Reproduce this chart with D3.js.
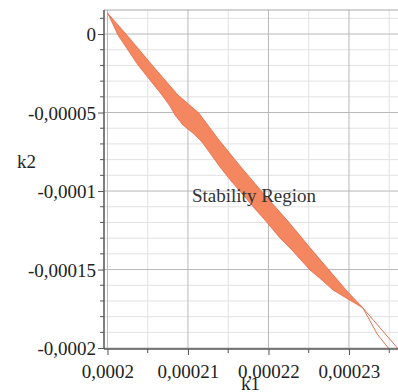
<!DOCTYPE html>
<meta charset="utf-8">
<style>
body { margin: 0; background: #fff; }
text { font-family: "Liberation Serif", "Times New Roman", serif; fill: #222; }
</style>
<svg width="398" height="392"></svg>
<script src="https://cdn.jsdelivr.net/npm/d3@7/dist/d3.min.js"></script>
<script>

// stability band, right (upper) edge, from the tip down to the crossing point
var upperEdge = [
  [0.0002000, 1.34e-5],
  [0.0002024, -0.06e-5],
  [0.00020553, -1.97e-5],
  [0.00020876, -3.89e-5],
  [0.00021135, -5.03e-5],
  [0.00021385, -6.75e-5],
  [0.00021658, -8.47e-5],
  [0.00021975, -10.38e-5],
  [0.0002223, -11.85e-5],
  [0.0002254, -13.76e-5],
  [0.00022752, -15.03e-5],
  [0.00022963, -16.30e-5],
  [0.00023174, -17.45e-5]
];

// left (lower) edge, wavy
var lowerEdge = [
  [0.0002000, 1.34e-5],
  [0.00020056, 0.76e-5],
  [0.0002013, -0.06e-5],
  [0.00020255, -1.02e-5],
  [0.00020379, -1.97e-5],
  [0.00020528, -2.93e-5],
  [0.00020677, -3.89e-5],
  [0.00020776, -4.59e-5],
  [0.00020839, -5.16e-5],
  [0.00020938, -5.80e-5],
  [0.00021062, -6.31e-5],
  [0.00021174, -6.88e-5],
  [0.00021273, -7.58e-5],
  [0.00021398, -8.47e-5],
  [0.00021547, -9.43e-5],
  [0.00021708, -10.38e-5],
  [0.00021845, -11.21e-5],
  [0.00021957, -11.85e-5],
  [0.00022143, -12.99e-5],
  [0.00022292, -13.76e-5],
  [0.00022516, -15.03e-5],
  [0.00022665, -15.67e-5],
  [0.00022801, -16.30e-5],
  [0.00022988, -16.88e-5],
  [0.00023174, -17.45e-5]
];

// the two boundary curves after they cross
var tailRight = [[0.00023174, -17.45e-5], [0.00023634, -20.19e-5]];
var tailLeft  = [[0.00023174, -17.45e-5], [0.0002335, -19.1e-5], [0.00023509, -20.13e-5]];

var xMajor = [0.0002, 0.00021, 0.00022, 0.00023];
var xMinor = [0.000205, 0.000215, 0.000225, 0.000235];
var yMajor = [0, -0.00005, -0.0001, -0.00015, -0.0002];
var yMinor = [0.00001, -0.00001, -0.00002, -0.00003, -0.00004, -0.00006, -0.00007, -0.00008, -0.00009,
              -0.00011, -0.00012, -0.00013, -0.00014, -0.00016, -0.00017, -0.00018, -0.00019];

var xDomain = [0.00019957, 0.00023609];
var yDomain = [1.53e-5, -2.006e-4];

var svg = d3.select("svg"),
    pLeft = 104, pRight = 398, pTop = 10, pBottom = 349;

svg.append("rect").attr("width", 398).attr("height", 392).style("fill", "#fff");

var x = d3.scaleLinear().domain(xDomain).range([pLeft, pRight]);
var y = d3.scaleLinear().domain(yDomain).range([pTop, pBottom]);

var loc = d3.formatLocale({decimal: ",", thousands: ".", grouping: [3], currency: ["", ""], minus: "-"});
var fmt = loc.format(".5~f");

svg.append("defs").append("clipPath").attr("id", "clip")
   .append("rect").attr("x", pLeft).attr("y", pTop).attr("width", pRight - pLeft).attr("height", pBottom - pTop);

// grid
var grid = svg.append("g");
grid.selectAll(".vmin").data(xMinor).enter().append("line")
    .attr("x1", x).attr("x2", x).attr("y1", pTop).attr("y2", pBottom)
    .style("stroke", "#e2e2e2").style("stroke-width", 1);
grid.selectAll(".hmin").data(yMinor).enter().append("line")
    .attr("y1", y).attr("y2", y).attr("x1", pLeft).attr("x2", pRight)
    .style("stroke", "#e2e2e2").style("stroke-width", 1);
grid.selectAll(".vmaj").data(xMajor).enter().append("line")
    .attr("x1", x).attr("x2", x).attr("y1", pTop).attr("y2", pBottom)
    .style("stroke", "#b8b8b8").style("stroke-width", 1);
grid.selectAll(".hmaj").data(yMajor).enter().append("line")
    .attr("y1", y).attr("y2", y).attr("x1", pLeft).attr("x2", pRight)
    .style("stroke", "#b8b8b8").style("stroke-width", 1);
grid.append("line").attr("x1", pLeft).attr("x2", pRight).attr("y1", pTop).attr("y2", pTop)
    .style("stroke", "#a8a8a8").style("stroke-width", 1);

// band
var plot = svg.append("g").attr("clip-path", "url(#clip)");
var line = d3.line().x(function(d) { return x(d[0]); }).y(function(d) { return y(d[1]); });

plot.append("path")
    .attr("d", line(upperEdge.concat(lowerEdge.slice().reverse())) + "Z")
    .style("fill", "#f4875f")
    .style("stroke", "#e4694a")
    .style("stroke-width", 0.8);

[tailRight, tailLeft].forEach(function(t) {
  plot.append("path").attr("d", line(t))
      .style("fill", "none").style("stroke", "#de7656").style("stroke-width", 1);
});

// axes
var yAxis = svg.append("g").attr("transform", "translate(" + pLeft + ",0)");
yAxis.call(d3.axisLeft(y).tickValues(yMajor).tickSize(6).tickFormat(fmt));
yAxis.selectAll(".minor").data(yMinor).enter().append("line")
     .attr("class", "minor")
     .attr("x1", -4).attr("x2", 0).attr("y1", y).attr("y2", y);
yAxis.select(".domain").attr("d", "M0," + pTop + "V" + pBottom);

var xAxis = svg.append("g").attr("transform", "translate(0," + pBottom + ")");
xAxis.call(d3.axisBottom(x).tickValues(xMajor).tickSize(6).tickFormat(fmt));
xAxis.selectAll(".minor").data(xMinor).enter().append("line")
     .attr("class", "minor")
     .attr("y1", 0).attr("y2", 4).attr("x1", x).attr("x2", x);
xAxis.select(".domain").attr("d", "M" + pLeft + ",0H" + pRight);

svg.selectAll(".domain").style("stroke", "#555").style("stroke-width", 1.5);
svg.selectAll(".tick line, line.minor").style("stroke", "#555");
svg.selectAll(".tick text").style("font-family", "Liberation Serif, serif")
   .style("font-size", "19px").style("fill", "#222");
yAxis.selectAll(".tick text").attr("x", -8).attr("dy", "0.36em");
xAxis.selectAll(".tick text").attr("y", 16);

// labels
svg.append("text").attr("x", 17).attr("y", 168).style("font-size", "19px").text("k2");
svg.append("text").attr("x", 241).attr("y", 390).style("font-size", "19px").text("k1");
svg.append("text").attr("x", x(0.0002105)).attr("y", y(-1.07e-4))
   .style("font-size", "19px").style("fill", "#333").text("Stability Region");

</script>
